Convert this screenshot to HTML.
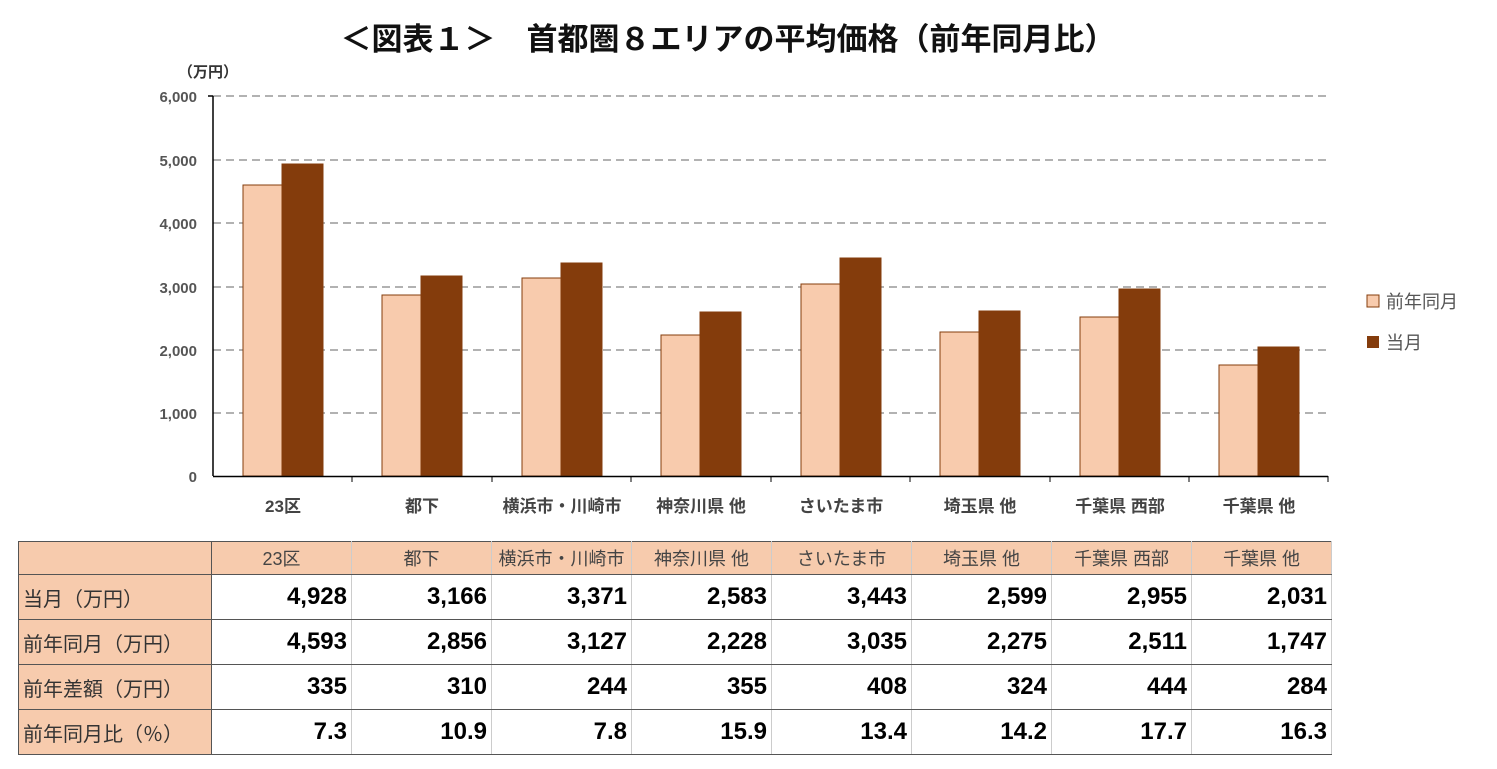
<!DOCTYPE html>
<html><head><meta charset="utf-8"><style>
body{margin:0;width:1497px;height:769px;background:#fff;overflow:hidden;font-family:"Liberation Sans","Noto Sans CJK JP",sans-serif;position:relative}
svg{position:absolute;left:0;top:0}
table{position:absolute;left:18px;top:541px;border-collapse:collapse;width:1314px;table-layout:fixed}
td{border:1px solid #555;height:44px;padding:0 4px;font-size:24px;font-weight:bold;text-align:right;color:#000}
tr.h td{height:32px;background:#f7cbad;font-size:18px;font-weight:normal;text-align:center;color:#444}
td.l{background:#f7cbad;text-align:left;font-size:20px;font-weight:normal;color:#333}
td.c{border-left:1px solid #ccc;border-right:1px solid #ccc}
</style></head><body>
<svg width="1497" height="769" font-family="Liberation Sans, Noto Sans CJK JP, sans-serif">
<text x="728" y="50" text-anchor="middle" font-size="31" font-weight="bold" fill="#111">＜図表１＞　首都圏８エリアの平均価格（前年同月比）</text>
<text x="178" y="77" font-size="15" font-weight="bold" fill="#333">（万円）</text>
<g stroke="#999" stroke-width="1.5" stroke-dasharray="8,5">
<line x1="213" x2="1328" y1="96" y2="96"/><line x1="213" x2="1328" y1="160" y2="160"/><line x1="213" x2="1328" y1="223" y2="223"/><line x1="213" x2="1328" y1="287" y2="287"/><line x1="213" x2="1328" y1="350" y2="350"/><line x1="213" x2="1328" y1="413" y2="413"/>
</g>
<g font-size="15" font-weight="bold" fill="#555" text-anchor="end">
<text x="197" y="102">6,000</text><text x="197" y="166">5,000</text><text x="197" y="229">4,000</text><text x="197" y="293">3,000</text><text x="197" y="356">2,000</text><text x="197" y="419">1,000</text><text x="197" y="482">0</text>
</g>
<g id="bars" stroke="#843c0c" stroke-width="1">
<rect x="243" y="185" width="39" height="291" fill="#f8cbad"/><rect x="282" y="164" width="41" height="312" fill="#843c0c"/>
<rect x="382" y="295" width="39" height="181" fill="#f8cbad"/><rect x="421" y="276" width="41" height="200" fill="#843c0c"/>
<rect x="522" y="278" width="39" height="198" fill="#f8cbad"/><rect x="561" y="263" width="41" height="213" fill="#843c0c"/>
<rect x="661" y="335" width="39" height="141" fill="#f8cbad"/><rect x="700" y="312" width="41" height="164" fill="#843c0c"/>
<rect x="801" y="284" width="39" height="192" fill="#f8cbad"/><rect x="840" y="258" width="41" height="218" fill="#843c0c"/>
<rect x="940" y="332" width="39" height="144" fill="#f8cbad"/><rect x="979" y="311" width="41" height="165" fill="#843c0c"/>
<rect x="1080" y="317" width="39" height="159" fill="#f8cbad"/><rect x="1119" y="289" width="41" height="187" fill="#843c0c"/>
<rect x="1219" y="365" width="39" height="111" fill="#f8cbad"/><rect x="1258" y="347" width="41" height="129" fill="#843c0c"/>
</g>
<line x1="213" x2="213" y1="96" y2="476" stroke="#000" stroke-width="1.5"/>
<line x1="208" x2="213" y1="96" y2="96" stroke="#000" stroke-width="1.5"/>
<line x1="213" x2="1328" y1="476.5" y2="476.5" stroke="#000" stroke-width="1.5"/>
<g stroke="#000"><line x1="352" x2="352" y1="476" y2="482"/><line x1="492" x2="492" y1="476" y2="482"/><line x1="631" x2="631" y1="476" y2="482"/><line x1="771" x2="771" y1="476" y2="482"/><line x1="910" x2="910" y1="476" y2="482"/><line x1="1050" x2="1050" y1="476" y2="482"/><line x1="1189" x2="1189" y1="476" y2="482"/><line x1="1328" x2="1328" y1="476" y2="482"/></g>
<g font-size="17" font-weight="bold" fill="#444" text-anchor="middle">
<text x="283" y="512">23区</text><text x="422" y="512">都下</text><text x="562" y="512">横浜市・川崎市</text><text x="701" y="512">神奈川県 他</text><text x="841" y="512">さいたま市</text><text x="980" y="512">埼玉県 他</text><text x="1120" y="512">千葉県 西部</text><text x="1259" y="512">千葉県 他</text>
</g>
<rect x="1367" y="295" width="12" height="12" fill="#f8cbad" stroke="#843c0c"/>
<text x="1386" y="308" font-size="18" fill="#555">前年同月</text>
<rect x="1367" y="336" width="12" height="12" fill="#843c0c"/>
<text x="1386" y="349" font-size="18" fill="#555">当月</text>
</svg>
<table>
<colgroup><col style="width:193px"><col span="8" style="width:140px"></colgroup>
<tr class="h"><td></td><td class="c">23区</td><td class="c">都下</td><td class="c">横浜市・川崎市</td><td class="c">神奈川県 他</td><td class="c">さいたま市</td><td class="c">埼玉県 他</td><td class="c">千葉県 西部</td><td class="c">千葉県 他</td></tr>
<tr><td class="l">当月（万円）</td><td class="c">4,928</td><td class="c">3,166</td><td class="c">3,371</td><td class="c">2,583</td><td class="c">3,443</td><td class="c">2,599</td><td class="c">2,955</td><td class="c">2,031</td></tr>
<tr><td class="l">前年同月（万円）</td><td class="c">4,593</td><td class="c">2,856</td><td class="c">3,127</td><td class="c">2,228</td><td class="c">3,035</td><td class="c">2,275</td><td class="c">2,511</td><td class="c">1,747</td></tr>
<tr><td class="l">前年差額（万円）</td><td class="c">335</td><td class="c">310</td><td class="c">244</td><td class="c">355</td><td class="c">408</td><td class="c">324</td><td class="c">444</td><td class="c">284</td></tr>
<tr><td class="l">前年同月比（％）</td><td class="c">7.3</td><td class="c">10.9</td><td class="c">7.8</td><td class="c">15.9</td><td class="c">13.4</td><td class="c">14.2</td><td class="c">17.7</td><td class="c">16.3</td></tr>
</table>
</body></html>
